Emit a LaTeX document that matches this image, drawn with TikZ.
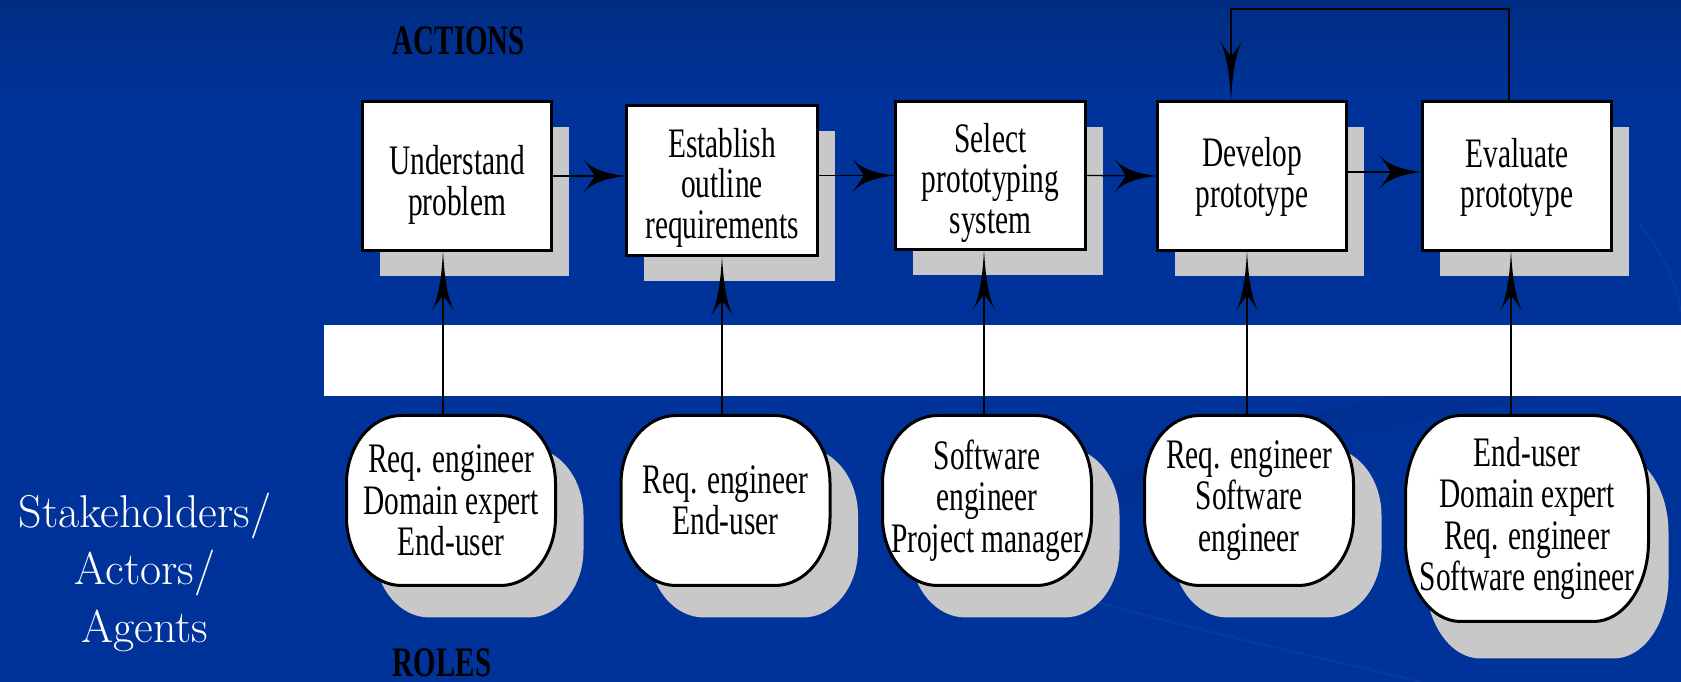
\documentclass[tikz,border=0pt]{standalone}
\usepackage{fontspec}
\usetikzlibrary{calc,backgrounds,shadows,arrows.meta}

% condensed Times-like faces for the diagram labels
\newfontfamily\boxfont[FakeStretch=0.70]{Liberation Serif}
\newfontfamily\headfont[FakeStretch=0.69]{Liberation Serif}

\definecolor{bgblue}{RGB}{0,51,153}
\definecolor{topblue}{RGB}{0,44,130}
\definecolor{shadegray}{RGB}{200,200,200}

% flared arrow head with concave sides and a notched back
\pgfdeclarearrow{
  name = Flare,
  parameters = {\the\pgfarrowlength,\the\pgfarrowwidth},
  setup code = {
    \pgfarrowssettipend{0pt}
    \pgfarrowssetbackend{-\pgfarrowlength}
    \pgfarrowssetlineend{-0.6\pgfarrowlength}
    \pgfarrowssavethe\pgfarrowlength
    \pgfarrowssavethe\pgfarrowwidth
  },
  drawing code = {
    \pgfpathmoveto{\pgfpointorigin}
    \pgfpathcurveto{\pgfpoint{-0.45\pgfarrowlength}{0.06\pgfarrowwidth}}{\pgfpoint{-0.8\pgfarrowlength}{0.2\pgfarrowwidth}}{\pgfpoint{-\pgfarrowlength}{0.5\pgfarrowwidth}}
    \pgfpathcurveto{\pgfpoint{-0.86\pgfarrowlength}{0.25\pgfarrowwidth}}{\pgfpoint{-0.78\pgfarrowlength}{0.1\pgfarrowwidth}}{\pgfpoint{-0.74\pgfarrowlength}{0pt}}
    \pgfpathcurveto{\pgfpoint{-0.78\pgfarrowlength}{-0.1\pgfarrowwidth}}{\pgfpoint{-0.86\pgfarrowlength}{-0.25\pgfarrowwidth}}{\pgfpoint{-\pgfarrowlength}{-0.5\pgfarrowwidth}}
    \pgfpathcurveto{\pgfpoint{-0.8\pgfarrowlength}{-0.2\pgfarrowwidth}}{\pgfpoint{-0.45\pgfarrowlength}{-0.06\pgfarrowwidth}}{\pgfpointorigin}
    \pgfpathclose
    \pgfusepathqfill
  },
  defaults = {length=43pt, width=33pt}
}

% outline of a role bubble: rectangle with elliptical corners
\newcommand\roleoutline[3]{%
  ($(#1.north west)+(#2,0)$) -- ($(#1.north east)+(-#2,0)$)
  arc[start angle=90,end angle=0,x radius=#2,y radius=#3]
  -- ($(#1.south east)+(0,#3)$)
  arc[start angle=0,end angle=-90,x radius=#2,y radius=#3]
  -- ($(#1.south west)+(#2,0)$)
  arc[start angle=270,end angle=180,x radius=#2,y radius=#3]
  -- ($(#1.north west)+(0,-#3)$)
  arc[start angle=180,end angle=90,x radius=#2,y radius=#3]
  -- cycle}

\tikzset{
  actbox/.style={draw=black, line width=3pt, fill=white,
    minimum width=189pt, minimum height=149pt, inner sep=0pt, outer sep=0pt,
    drop shadow={shadow xshift=17pt, shadow yshift=-26pt, fill=shadegray, opacity=1}},
  acttext/.style={inner sep=0pt, align=center, font=\boxfont\fontsize{42}{40.5}\selectfont},
  role/.style={minimum width=209pt, minimum height=170pt, inner sep=0pt, outer sep=0pt,
    align=center, font=\boxfont\fontsize{42}{41.5}\selectfont},
  flow/.style={line width=1.3pt, -{Flare[length=43pt,width=33pt]}},
  feed/.style={line width=1.1pt, -{Flare[length=61pt,width=23pt]}},
  heading/.style={font=\headfont\bfseries\fontsize{42}{42}\selectfont},
}

\begin{document}
\begin{tikzpicture}[x=1pt,y=1pt]
\useasboundingbox (0,0) rectangle (1681,682);

% actions
\node[actbox] (b1) at (457,506) {};
\node[actbox, minimum width=191pt, minimum height=150pt] (b2) at (722,501.5) {};
\node[actbox, minimum width=190pt, minimum height=148pt] (b3) at (990.5,506.5) {};
\node[actbox] (b4) at (1252,506) {};
\node[actbox] (b5) at (1517,506) {};
\node[acttext] (b1t) at ([yshift=-9pt]b1.center) {Understand\\problem};
\node[acttext] (b2t) at ([yshift=-7pt]b2.center) {Establish\\outline\\requirements};
\node[acttext] (b3t) at ([yshift=-7pt]b3.center) {Select\\prototyping\\system};
\node[acttext] (b4t) at ([yshift=-1pt]b4.center) {Develop\\prototype};
\node[acttext] (b5t) at ([yshift=-1.5pt]b5.center) {Evaluate\\prototype};

% roles
\node[role] (e1) at (451,181.5) {Req. engineer\\Domain expert\\End-user};
\node[role] (e2) at (725.5,181.5) {Req. engineer\\End-user};
\node[role] (e3) at (987,181.5) {Software\\engineer\\Project manager};
\node[role] (e4) at (1249,181.5) {Req. engineer\\Software\\engineer};
\node[role, minimum width=243pt, minimum height=206pt] (e5) at (1527,163.5) {End-user\\Domain expert\\Req. engineer\\Software engineer};

% captions
\node[heading] (actions) at (459,641) {ACTIONS};
\node[heading] (roles) at (442,19) {ROLES};
\node[text=white, align=center, font=\fontsize{46}{57.5}\selectfont] (agents) at (145,110) {Stakeholders/\\Actors/\\Agents};

% slide background, separator band and role bubbles
\begin{scope}[on background layer]
  \fill[bgblue] (0,0) rectangle (1681,682);
  \shade[top color=topblue, bottom color=bgblue] (0,585) rectangle (1681,682);
  \draw[line width=30pt, black, opacity=0.05] (1020,150) .. controls (1250,250) and (1450,290) .. (1681,320);
  \draw[line width=1.5pt, white, opacity=0.04] (1000,110) .. controls (1150,60) and (1300,30) .. (1420,0);
  \draw[line width=1.5pt, white, opacity=0.04] (1640,457) .. controls (1662,430) and (1676,400) .. (1681,370);
  \fill[white] (324,286) rectangle (1681,357);
  \foreach \n in {e1,e2,e3,e4}{
    \begin{scope}[transform canvas={shift={(28pt,-32pt)}}]
      \fill[shadegray] \roleoutline{\n}{55}{68};
    \end{scope}
    \path[draw=black, line width=3pt, fill=white] \roleoutline{\n}{55}{68};
  }
  \begin{scope}[transform canvas={shift={(20pt,-37pt)}}]
    \fill[shadegray] \roleoutline{e5}{55}{80};
  \end{scope}
  \path[draw=black, line width=3pt, fill=white] \roleoutline{e5}{55}{80};
\end{scope}

% flow between actions
\draw[flow] (b1.east) -- (b1.east -| b2.west);
\draw[flow] (b2.east |- b3.west) -- (b3.west);
\draw[flow] (b3.east) -- (b4.west);
\draw[flow] ([yshift=4pt]b4.east) -- ([yshift=4pt]b5.west);

% iteration from evaluation back to development
\coordinate (looptop) at (1231,673);
\draw[feed] ([xshift=-8pt]b5.north) |- (looptop) -- ([xshift=-21pt]b4.north);

% roles taking part in each action
\draw[feed] ([xshift=-8pt]e1.north) -- ([xshift=-8pt]e1.north |- b1.south);
\draw[feed] ([xshift=-3.5pt]e2.north) -- ([xshift=-3.5pt]e2.north |- b2.south);
\draw[feed] ([xshift=-3pt]e3.north) -- ([xshift=-3pt]e3.north |- b3.south);
\draw[feed] ([xshift=-2pt]e4.north) -- ([xshift=-2pt]e4.north |- b4.south);
\draw[feed] ([xshift=-16pt]e5.north) -- ([xshift=-16pt]e5.north |- b5.south);
\end{tikzpicture}
\end{document}
